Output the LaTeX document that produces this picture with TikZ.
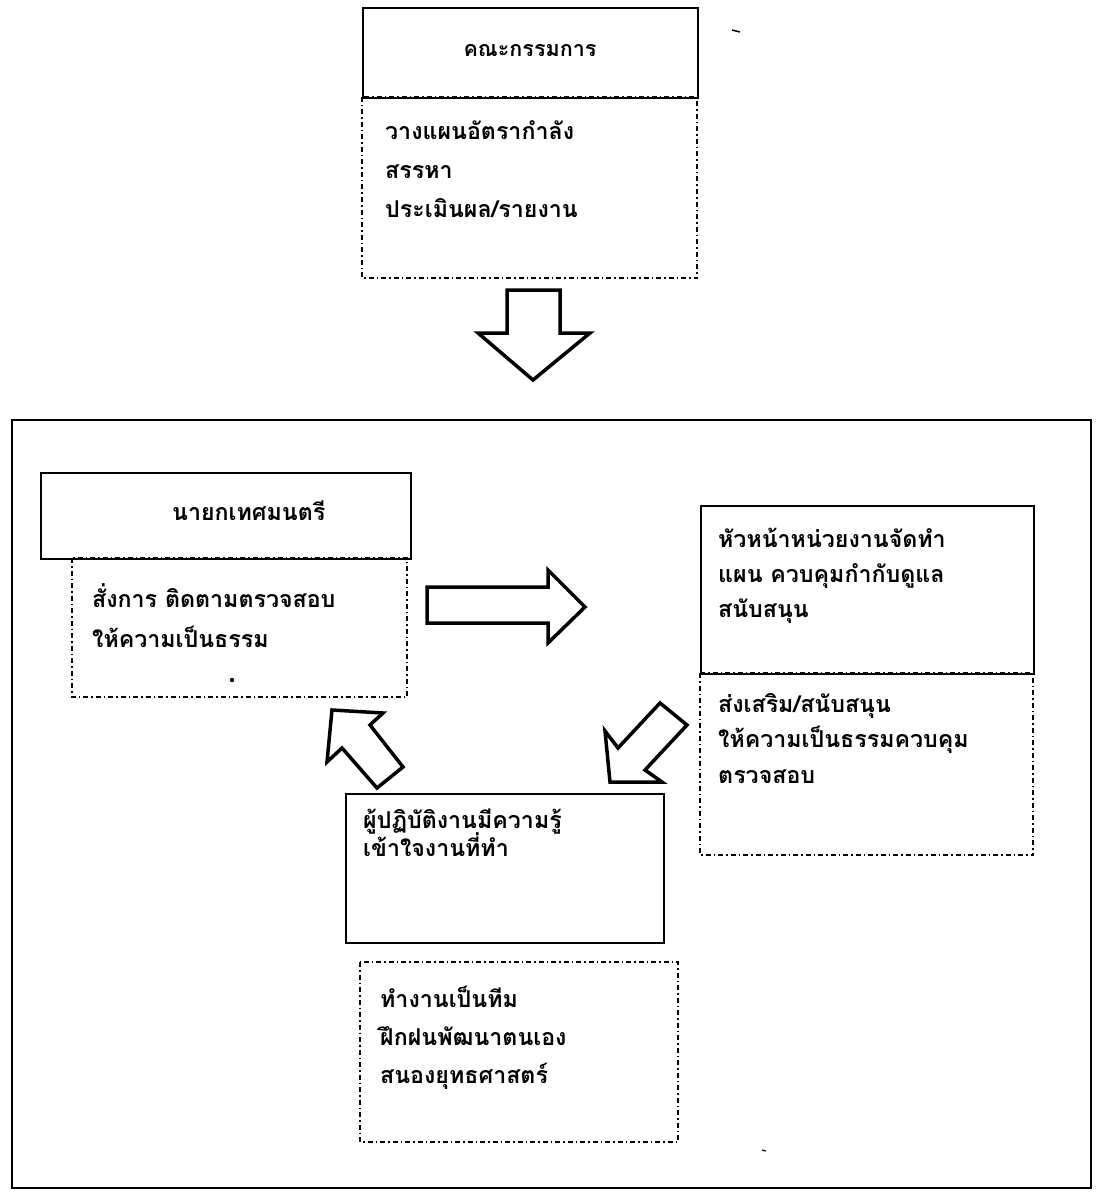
\documentclass[tikz,border=0pt]{standalone}
\usepackage{fontspec}
\newfontfamily\thaifont[Script=Thai]{Loma}
\begin{document}
\begin{tikzpicture}[x=1pt,y=-1pt,
  solidbox/.style={draw,line width=1.8pt,minimum width=#1,anchor=north west,inner sep=0pt},
  dashbox/.style={draw,line width=1.3pt,dash pattern=on 5pt off 3pt on 1.5pt off 3pt},
  frame/.style={draw,line width=2.2pt},
  blockarrow/.style={draw,line width=3.5pt,line join=miter,fill=white},
  thtext/.style={font=\thaifont\bfseries\fontsize{23.2}{27}\selectfont,inner sep=0pt,anchor=base west},
  thtitle/.style={font=\thaifont\bfseries\fontsize{21.5}{25}\selectfont,inner sep=0pt,anchor=base}]
\useasboundingbox (0,0) rectangle (1096,1193);

% outer frame
\draw[frame] (12,420) rectangle (1091,1188);

% ---- top: committee ----
\draw[dashbox] (362,97) rectangle (697,278);
\node[solidbox=335pt,minimum height=90pt] (b1) at (362,7) {};
\node[thtitle] (b1t) at (530,57) {คณะกรรมการ};
\foreach \t [count=\i] in {วางแผนอัตรากำลัง,สรรหา,ประเมินผล/รายงาน}
  \node[thtext] (b1l\i) at (385,{140+38.5*(\i-1)}) {\t};

% ---- mayor ----
\draw[dashbox] (72,558) rectangle (407,697);
\node[solidbox=370pt,minimum height=86pt] (b2) at (40,472) {};
\node[thtext] (b2t) at (172,520) {นายกเทศมนตรี};
\foreach \t [count=\i] in {สั่งการ ติดตามตรวจสอบ,ให้ความเป็นธรรม}
  \node[thtext] (b2l\i) at (92,{607+40*(\i-1)}) {\t};
\fill (232,680) circle (2.2pt);

% ---- unit head ----
\draw[dashbox] (700,673) rectangle (1033,855);
\node[solidbox=333pt,minimum height=168pt] (b3) at (700,505) {};
\foreach \t [count=\i] in {หัวหน้าหน่วยงานจัดทำ,แผน ควบคุมกำกับดูแล,สนับสนุน}
  \node[thtext] (b3l\i) at (718,{547+35*(\i-1)}) {\t};
\foreach \t [count=\i] in {ส่งเสริม/สนับสนุน,ให้ความเป็นธรรมควบคุม,ตรวจสอบ}
  \node[thtext] (b3m\i) at (718,{712+35.5*(\i-1)}) {\t};

% ---- staff ----
\node[solidbox=318pt,minimum height=149pt] (b4) at (345,793) {};
\foreach \t [count=\i] in {ผู้ปฏิบัติงานมีความรู้,เข้าใจงานที่ทำ}
  \node[thtext] (b4l\i) at (363,{828+28*(\i-1)}) {\t};
\draw[dashbox] (360,962) rectangle (678,1142);
\foreach \t [count=\i] in {ทำงานเป็นทีม,ฝึกฝนพัฒนาตนเอง,สนองยุทธศาสตร์}
  \node[thtext] (b5l\i) at (380,{1007+38*(\i-1)}) {\t};

% ---- block arrows ----
\draw[blockarrow] (507,290) -- (560,290) -- (560,333) -- (590,333) -- (533,380) -- (478,333) -- (507,333) -- cycle;
\draw[blockarrow] (427,587) -- (548,587) -- (548,570) -- (585,607) -- (548,643) -- (548,623) -- (427,623) -- cycle;
\draw[blockarrow] (660,703) -- (687,725) -- (645,770) -- (662,782) -- (610,782) -- (605,731) -- (618,748) -- cycle;
\draw[blockarrow] (332,710) -- (383,713) -- (370,725) -- (403,767) -- (377,788) -- (342,748) -- (327,762) -- cycle;

% scan marks
\draw[line width=1.5pt] (732,30) -- (740,32);
\draw[line width=1.2pt] (762,1150) -- (766,1151);
\end{tikzpicture}
\end{document}
